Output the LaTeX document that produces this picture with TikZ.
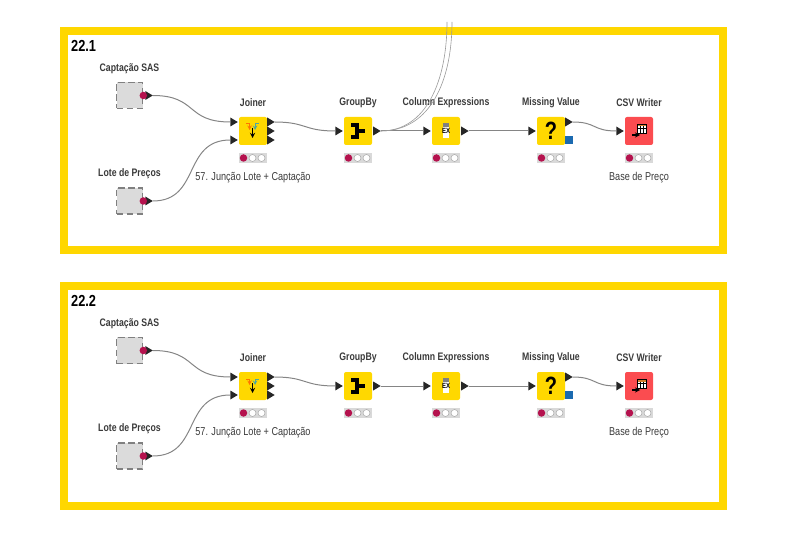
\documentclass[tikz,border=0pt]{standalone}
\usepackage{fontspec}
\setmainfont[FakeStretch=0.8]{Liberation Sans}
\usetikzlibrary{positioning}
\usetikzlibrary{shapes.geometric}

\definecolor{frameyellow}{HTML}{FFD700}
\definecolor{knimeyellow}{HTML}{FFD800}
\definecolor{writerred}{HTML}{FB4C50}
\definecolor{flowred}{HTML}{B5124E}
\definecolor{portblue}{HTML}{1B6AB0}
\definecolor{linkgray}{HTML}{858585}
\definecolor{labelgray}{HTML}{3A3A3A}

\tikzset{
    blockframe/.style={draw=frameyellow, line width=8pt},
    blocktitle/.style={anchor=west, font=\bfseries\fontsize{16}{16}\selectfont, text=black, inner sep=0},
    nodebox/.style={minimum size=28pt, inner sep=0, rounded corners=2pt},
    metabox/.style={draw=gray, fill=gray!28, line width=1.6pt, dash pattern=on 6.5pt off 3.5pt, minimum size=26pt, inner sep=0},
    port/.style={isosceles triangle, isosceles triangle stretches, minimum height=7.5pt, minimum width=9pt, inner sep=0, outer sep=0, fill=black!85},
    flowdot/.style={circle, fill=flowred, minimum size=7.5pt, inner sep=0},
    statusbar/.style={fill=gray!30, minimum width=28pt, minimum height=10pt, inner sep=0},
    offdot/.style={circle, draw=gray!70, fill=white, line width=0.5pt, minimum size=7pt, inner sep=0},
    namelabel/.style={font=\bfseries\fontsize{10.9}{10.9}\selectfont, text=labelgray, inner sep=0},
    notelabel/.style={font=\fontsize{11.4}{11.4}\selectfont, text=labelgray, inner sep=0},
    link/.style={draw=linkgray, line width=1pt},
    farlink/.style={draw=gray!80, line width=0.6pt},
}

\begin{document}
\begin{tikzpicture}[x=1pt,y=-1pt]
    \useasboundingbox (0,0) rectangle (800,534);

    \foreach \b/\yo/\blockname in {1/0/22.1, 2/255/22.2} {
    \begin{scope}[yshift=-\yo pt]
        \draw[blockframe] (64,31) rectangle (722.5,250.5);
        \node[blocktitle] (title\b) at (71,46) {\blockname};

        % metanodes
        \foreach \n/\y/\name in {cap/95.5/Captação SAS, lote/201/Lote de Preços} {
            \node[metabox] (\n\b) at (129.5,\y) {};
            \node[namelabel, above=22pt of \n\b.center] (\n label\b) {\name};
            \node[port, anchor=west] (\n out\b) at ([xshift=2pt]\n\b.east) {};
            \node[flowdot] (\n dot\b) at (\n\b.east) {};
        }

        % nodes
        \foreach \n/\x/\name/\col in {joiner/253/Joiner/knimeyellow, group/358/GroupBy/knimeyellow, expr/446/Column Expressions/knimeyellow, miss/551/Missing Value/knimeyellow, csv/639/CSV Writer/writerred} {
            \node[nodebox, fill=\col] (\n\b) at (\x,131) {};
            \node[namelabel] (\n label\b) at (\x,102.5) {\name};
            \node[statusbar] (\n status\b) at (\x,158) {};
            \node[flowdot] (\n red\b) at (\x-9.5,158) {};
            \node[offdot] (\n off\b) at (\x-0.5,158) {};
            \node[offdot] (\n offb\b) at (\x+8.5,158) {};
        }
        \node[notelabel] (joinernote\b) at (253,178) {57. Junção Lote + Captação};
        \node[notelabel] (csvnote\b) at (639,178) {Base de Preço};

        % ports
        \node[port, anchor=east] (joinerinA\b) at ([xshift=-1pt,yshift=9pt]joiner\b.west) {};
        \node[port, anchor=east] (joinerinB\b) at ([xshift=-1pt,yshift=-9pt]joiner\b.west) {};
        \node[port, anchor=west] (joineroutA\b) at ([yshift=9pt]joiner\b.east) {};
        \node[port, anchor=west] (joineroutB\b) at (joiner\b.east) {};
        \node[port, anchor=west] (joineroutC\b) at ([yshift=-9pt]joiner\b.east) {};
        \node[port, anchor=east] (groupin\b) at ([xshift=-1pt]group\b.west) {};
        \node[port, anchor=west] (groupout\b) at ([xshift=1pt]group\b.east) {};
        \node[port, anchor=east] (exprin\b) at ([xshift=-1pt]expr\b.west) {};
        \node[port, anchor=west] (exprout\b) at ([xshift=1pt]expr\b.east) {};
        \node[port, anchor=east] (missin\b) at ([xshift=-1pt]miss\b.west) {};
        \node[port, anchor=west] (missout\b) at ([yshift=9pt]miss\b.east) {};
        \node[port, anchor=east] (csvin\b) at ([xshift=-1pt]csv\b.west) {};
        \node[fill=portblue, minimum size=8pt, inner sep=0, anchor=north west] (missblue\b) at ([yshift=-5pt]miss\b.east) {};

        % connectors
        \draw[link] (capout\b.east) .. controls +(45,0) and +(-45,0) .. (joinerinA\b.west);
        \draw[link] (loteout\b.east) .. controls +(48,0) and +(-48,0) .. (joinerinB\b.west);
        \draw[link] (joineroutA\b.east) .. controls +(32,0) and +(-32,0) .. (groupin\b.west);
        \draw[link] (groupout\b.east) -- (exprin\b.west);
        \draw[link] (exprout\b.east) -- (missin\b.west);
        \draw[link] (missout\b.east) .. controls +(24,0) and +(-24,0) .. (csvin\b.west);

        % joiner icon
        \draw[orange!90!red, line width=1pt, ->, >=stealth] ([xshift=-7pt,yshift=7pt]joiner\b.center) -- ++(3.5,0) -- ++(0,6);
        \draw[teal!70, line width=1pt, ->, >=stealth] ([xshift=5.5pt,yshift=7pt]joiner\b.center) -- ++(-3.5,0) -- ++(0,6);
        \draw[black, line width=1.3pt, ->, >=stealth] ([yshift=3pt,xshift=-0.5pt]joiner\b.center) -- ++(0,10);

        % groupby icon
        \draw[black, line width=3.4pt] ([xshift=-7pt,yshift=6pt]group\b.center) -- ++(6,0) -- ++(0,12) -- ++(-6,0);
        \draw[black, line width=3.4pt] ([xshift=-1pt]group\b.center) -- ++(8,0);

        % expressions icon
        \fill[gray] ([xshift=-3pt,yshift=8pt]expr\b.center) rectangle ++(6,4);
        \fill[white] ([xshift=-3pt,yshift=4pt]expr\b.center) rectangle ++(6,11);
        \node[inner sep=0, font=\bfseries\fontsize{7.5}{7.5}\selectfont] (exprtext\b) at (expr\b.center) {EX};

        % missing value icon
        \node[inner sep=0, font=\bfseries\fontsize{25}{25}\selectfont] (misstext\b) at (miss\b.center) {?};

        % csv icon
        \fill[brown!70!orange] ([xshift=-2pt,yshift=7pt]csv\b.center) rectangle ++(9,2.5);
        \fill[white] ([xshift=-2pt,yshift=4.5pt]csv\b.center) rectangle ++(9,6.5);
        \draw[black, line width=0.6pt] ([xshift=-2pt,yshift=7pt]csv\b.center) rectangle ++(9,9);
        \draw[black, line width=0.4pt] ([xshift=-2pt,yshift=2.5pt]csv\b.center) -- ++(9,0);
        \draw[black, line width=0.4pt] ([xshift=1pt,yshift=4.5pt]csv\b.center) -- ++(0,6.5);
        \draw[black, line width=0.4pt] ([xshift=4pt,yshift=4.5pt]csv\b.center) -- ++(0,6.5);
        \draw[black, line width=1.2pt, ->, >=stealth] ([xshift=-7pt,yshift=-4pt]csv\b.center) -- ++(8,0);
    \end{scope}
    }

    % links coming in from above
    \coordinate (farA) at (447,22);
    \coordinate (farB) at (452,22);
    \draw[farlink] (groupout1.east) .. controls +(46,0) and (447,80) .. (farA);
    \draw[farlink] (groupout1.east) .. controls +(50,0) and (452,80) .. (farB);
\end{tikzpicture}
\end{document}
